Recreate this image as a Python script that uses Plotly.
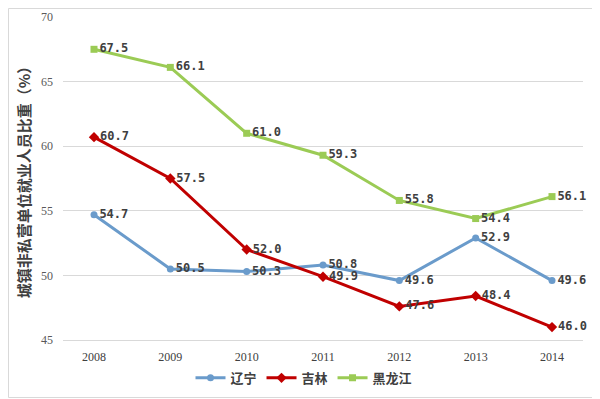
import plotly.graph_objects as go

years = ["2008", "2009", "2010", "2011", "2012", "2013", "2014"]
liaoning = [54.7, 50.5, 50.3, 50.8, 49.6, 52.9, 49.6]
jilin = [60.7, 57.5, 52.0, 49.9, 47.6, 48.4, 46.0]
heilongjiang = [67.5, 66.1, 61.0, 59.3, 55.8, 54.4, 56.1]
y_ticks = [45, 50, 55, 60, 65, 70]

series = [
    ("辽宁", liaoning, "#6A9BCB", "circle", 7),
    ("吉林", jilin, "#C00000", "diamond", 8),
    ("黑龙江", heilongjiang, "#9BCB55", "square", 7),
]

fig = go.Figure()
for name, vals, color, sym, ms in series:
    fig.add_trace(go.Scatter(
        x=years, y=vals, name=name, mode="lines+markers+text",
        line=dict(color=color, width=3),
        marker=dict(symbol=sym, size=ms, color=color),
        text=[f"{v:.1f}" for v in vals],
        textposition="middle right",
        textfont=dict(family="DejaVu Sans Mono", size=12, color="#404040", weight="bold"),
        cliponaxis=False,
    ))

# page body has an 8px default margin, so the figure is sized/offset to compensate
W, H = 592, 391
L, R, T, B = 55, 17, 9, 59
pw, ph = W - L - R, H - T - B

fig.update_layout(
    width=W, height=H,
    margin=dict(l=L, r=R, t=T, b=B, autoexpand=False),
    paper_bgcolor="white", plot_bgcolor="white",
    font=dict(family="Noto Sans CJK SC", color="#404040"),
    showlegend=True,
    legend=dict(orientation="h", x=0.5, xanchor="center", xref="container",
                y=0.054, yanchor="middle", yref="container",
                font=dict(size=13, family="Noto Sans CJK SC", color="#404040", weight="bold"),
                itemwidth=30, tracegroupgap=0),
    xaxis=dict(type="category", showgrid=False, showline=True, linecolor="#D9D9D9",
               tickfont=dict(family="Liberation Serif", size=12, color="#404040"),
               ticks="", ticklabelstandoff=6),
    yaxis=dict(range=[45, 70], tickvals=y_ticks, showgrid=True, gridcolor="#D9D9D9",
               zeroline=False, showline=False,
               tickfont=dict(family="Liberation Serif", size=12, color="#595959"),
               ticks="", ticklabelstandoff=9,
               title=dict(text="城镇非私营单位就业人员比重（%）",
                          font=dict(size=15, family="Noto Sans CJK SC", color="#404040", weight="bold"),
                          standoff=6)),
    shapes=[dict(type="rect", xref="paper", yref="paper",
                 x0=(0.5 - L) / pw, x1=(589.5 - L) / pw,
                 y0=-(389.5 - (T + ph)) / ph, y1=(T + ph - 0.5) / ph,
                 line=dict(color="#D9D9D9", width=1))],
)

fig.write_html("out.html")
